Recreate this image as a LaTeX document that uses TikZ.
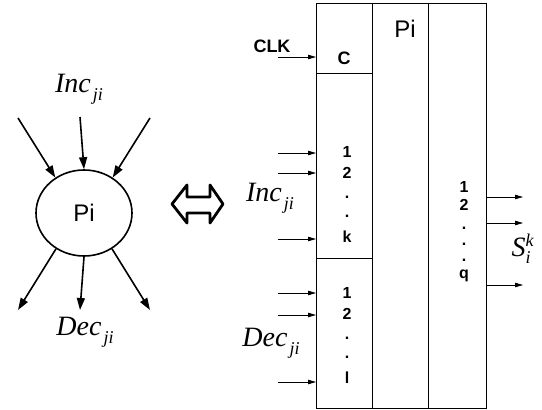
\documentclass[tikz,border=0pt]{standalone}
\usepackage{fontspec}
\setmainfont{Liberation Serif}
\setsansfont{Liberation Sans}
\usetikzlibrary{arrows.meta,shapes.geometric}
\newcommand\mysub[1]{\hspace{2pt}\raisebox{-8pt}{\fontsize{18}{18}\selectfont\itshape #1}}
\begin{document}
\begin{tikzpicture}[x=1pt,y=-1pt,
  bigarr/.style={line width=1.6pt,-{Triangle[length=12pt,width=8pt]}},
  smallarr/.style={line width=0.8pt,-{Triangle[length=8pt,width=4.5pt]}},
  cell/.style={draw,line width=0.9pt,inner sep=0,anchor=north west},
  lab/.style={font=\sffamily\bfseries\fontsize{16}{16}\selectfont,inner sep=0},
  mathlab/.style={font=\fontsize{28}{28}\selectfont\itshape,inner sep=0}]
\useasboundingbox (0,0) rectangle (542,410);
% left graph
\node[draw,ellipse,line width=1.6pt,minimum width=96pt,minimum height=86pt,inner sep=0] (P) at (84,213) {\sffamily\fontsize{24}{24}\selectfont Pi};
\coordinate (in1) at (18,118);
\coordinate (in2) at (80,117);
\coordinate (in3) at (150,118);
\coordinate (out1) at (18,310);
\coordinate (out2) at (80,310);
\coordinate (out3) at (150,310);
\draw[bigarr] (in1) -- (P.129);
\draw[bigarr] (in2) -- (P.90);
\draw[bigarr] (in3) -- (P.51);
\draw[bigarr] (P.232) -- (out1);
\draw[bigarr] (P.270) -- (out2);
\draw[bigarr] (P.308) -- (out3);
\node[mathlab] (incL) at (79,89) {Inc\mysub{ji}};
\node[mathlab] (decL) at (85,332) {Dec\mysub{ji}};
% double arrow
\draw[line width=2.8pt,line join=round] (172,204) -- (187,185) -- (187,197) -- (210,197) -- (210,185) -- (223,204) -- (210,223) -- (210,213) -- (187,213) -- (187,223) -- cycle;
% box
\node[cell,minimum width=56pt,minimum height=70pt] (cC) at (316,3) {};
\node[cell,minimum width=56pt,minimum height=185pt] (cInc) at (316,73) {};
\node[cell,minimum width=56pt,minimum height=150pt] (cDec) at (316,258) {};
\node[cell,minimum width=56pt,minimum height=405pt] (cPi) at (372,3) {};
\node[cell,minimum width=58pt,minimum height=405pt] (cOut) at (428,3) {};
\node[font=\sffamily\fontsize{24}{24}\selectfont,inner sep=0] (piR) at (405,29) {Pi};
\node[lab,font=\sffamily\bfseries\fontsize{18}{18}\selectfont] (clkL) at (272,46) {CLK};
\node[lab,font=\sffamily\bfseries\fontsize{18}{18}\selectfont] (cL) at (344,58) {C};
\coordinate (clk) at (278,57);
\draw[smallarr] (clk) -- (clk -| cC.west);
% inc inputs
\foreach \y/\n in {153/i1,173/i2,239/i3}{
  \coordinate (\n) at (278,\y);
  \draw[smallarr] (\n) -- (\n -| cInc.west);}
\foreach \t/\y/\n in {1/152/ia,2/173/ib,./197/ic,./216/id,k/237/ie}
  \node[lab] (\n) at (347,\y) {\t};
\node[mathlab] (incR) at (270,198) {Inc\mysub{ji}};
% dec inputs
\foreach \y/\n in {293/d1,315/d2,382/d3}{
  \coordinate (\n) at (278,\y);
  \draw[smallarr] (\n) -- (\n -| cDec.west);}
\foreach \t/\y/\n in {1/293/da,2/314/db,./338/dc,./357/dd,l/378/de}
  \node[lab] (\n) at (347,\y) {\t};
\node[mathlab] (decR) at (271,343) {Dec\mysub{ji}};
% outputs
\foreach \y/\n in {197/o1,223/o2,285/o3}{
  \coordinate (\n) at (523,\y);
  \draw[smallarr] (\n -| cOut.east) -- (\n);}
\foreach \t/\y/\n in {1/187/oa,2/205/ob,./228/oc,./244/od,./260/oe,q/276/of}
  \node[lab] (\n) at (464,\y) {\t};
\node[mathlab] (sR) at (521,249) {S\rlap{\raisebox{10pt}{\fontsize{18}{18}\selectfont\itshape k}}\raisebox{-7pt}{\fontsize{18}{18}\selectfont\itshape i}\hspace{5pt}};
\end{tikzpicture}
\end{document}
